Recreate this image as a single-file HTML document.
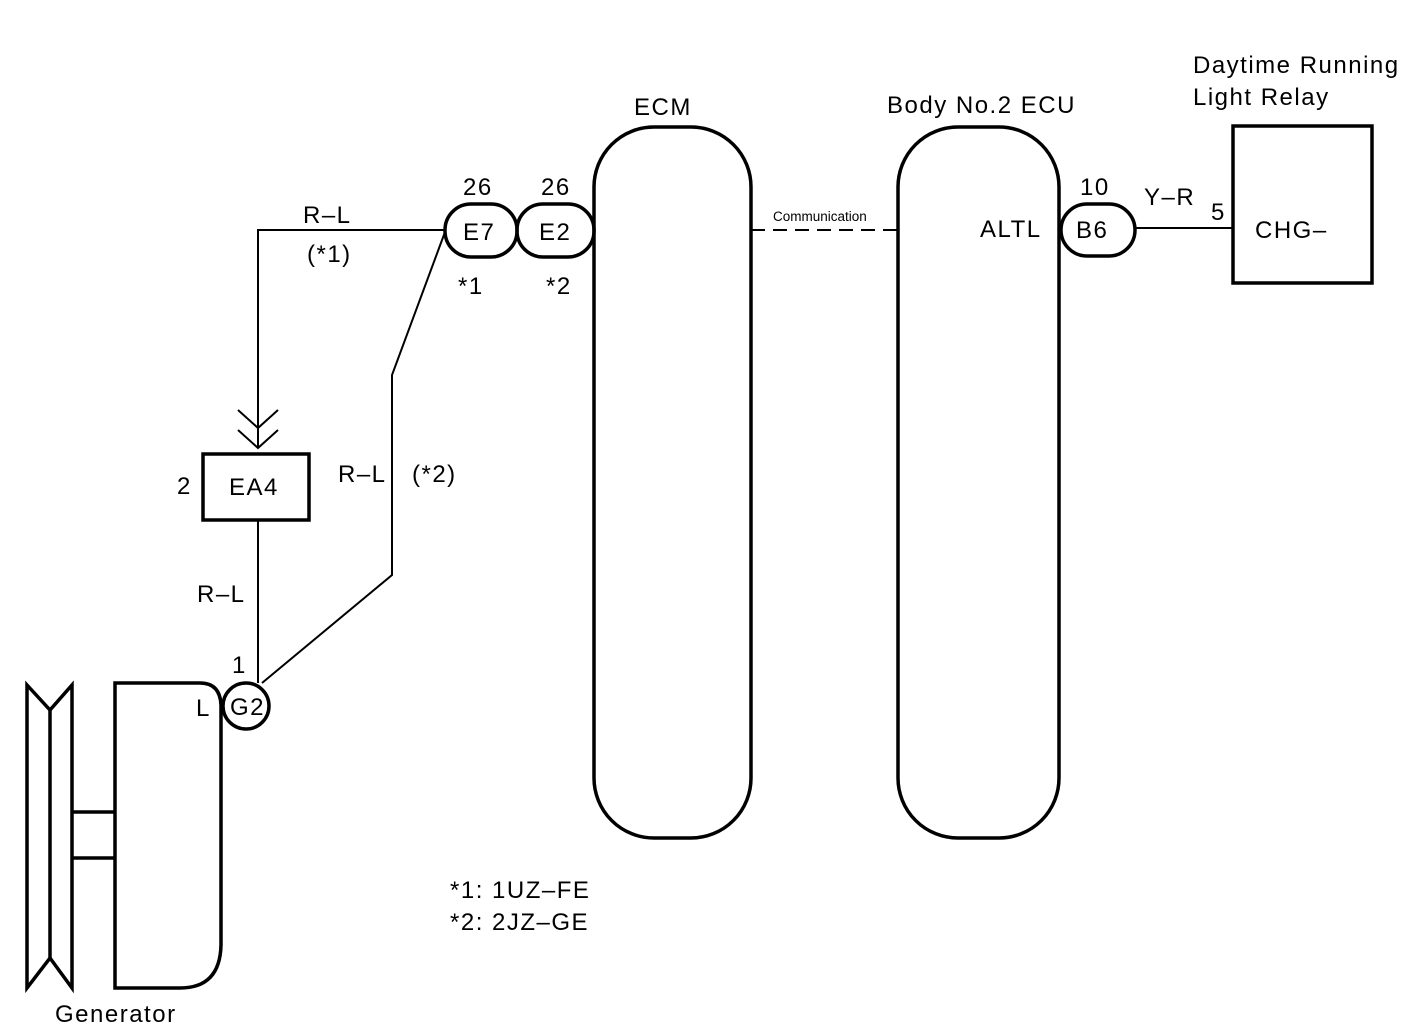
<!DOCTYPE html>
<html><head><meta charset="utf-8"><style>
html,body{margin:0;padding:0;background:#fff;}
svg{display:block;}
text{font-family:"Liberation Sans",sans-serif;fill:#000;}
</style></head><body>
<svg width="1408" height="1030" viewBox="0 0 1408 1030" xmlns="http://www.w3.org/2000/svg">
<g fill="none" stroke="#000" stroke-width="3.5">
<path d="M27,685 L50,710 L72,685 L72,988 L50,958 L27,988 Z"/>
<line x1="50" y1="710" x2="50" y2="958"/>
<line x1="72" y1="812" x2="115" y2="812"/>
<line x1="72" y1="858" x2="115" y2="858"/>
<path d="M115,683 L200,683 Q220,683 221,705 L221,945 Q220,988 180,988 L115,988 Z"/>
<circle cx="246" cy="706" r="23"/>
<rect x="203" y="454" width="106" height="66"/>
<rect x="594" y="127" width="157" height="711" rx="60" ry="60"/>
<rect x="898" y="127" width="161" height="711" rx="60" ry="60"/>
<rect x="445" y="204" width="72" height="53" rx="26" ry="26"/>
<rect x="517" y="204" width="77" height="53" rx="26" ry="26"/>
<rect x="1061" y="204" width="74" height="52" rx="26" ry="26"/>
<rect x="1233" y="126" width="139" height="157"/>
</g>
<g fill="none" stroke="#000" stroke-width="2">
<polyline points="445,230 258,230 258,448"/>
<polyline points="238,410 258,428 278,410"/>
<polyline points="238,430 258,448 278,430"/>
<line x1="258" y1="520" x2="258" y2="683"/>
<polyline points="445,232 392,375 392,575 262,683"/>
<line x1="751" y1="230" x2="898" y2="230" stroke-dasharray="14,8"/>
<line x1="1135" y1="228" x2="1233" y2="228"/>
</g>
<g font-size="24" letter-spacing="1.5">
<text x="55" y="1022">Generator</text>
<text x="196" y="716">L</text>
<text x="232" y="673">1</text>
<text x="230" y="715">G2</text>
<text x="177" y="494">2</text>
<text x="229" y="495">EA4</text>
<text x="197" y="602">R–L</text>
<text x="338" y="482">R–L</text>
<text x="412" y="482">(*2)</text>
<text x="303" y="223">R–L</text>
<text x="307" y="262">(*1)</text>
<text x="463" y="195">26</text>
<text x="541" y="195">26</text>
<text x="463" y="240">E7</text>
<text x="539" y="240">E2</text>
<text x="458" y="294">*1</text>
<text x="546" y="294">*2</text>
<text x="634" y="115">ECM</text>
<text x="887" y="113">Body No.2 ECU</text>
<text x="1193" y="73">Daytime Running</text>
<text x="1193" y="105">Light Relay</text>
<text x="980" y="237">ALTL</text>
<text x="1080" y="195">10</text>
<text x="1076" y="238">B6</text>
<text x="1144" y="205">Y–R</text>
<text x="1211" y="220">5</text>
<text x="1255" y="238">CHG–</text>
<text x="450" y="898">*1: 1UZ–FE</text>
<text x="450" y="930">*2: 2JZ–GE</text>
</g>
<text x="773" y="221" font-size="13.5">Communication</text>
</svg>
</body></html>
